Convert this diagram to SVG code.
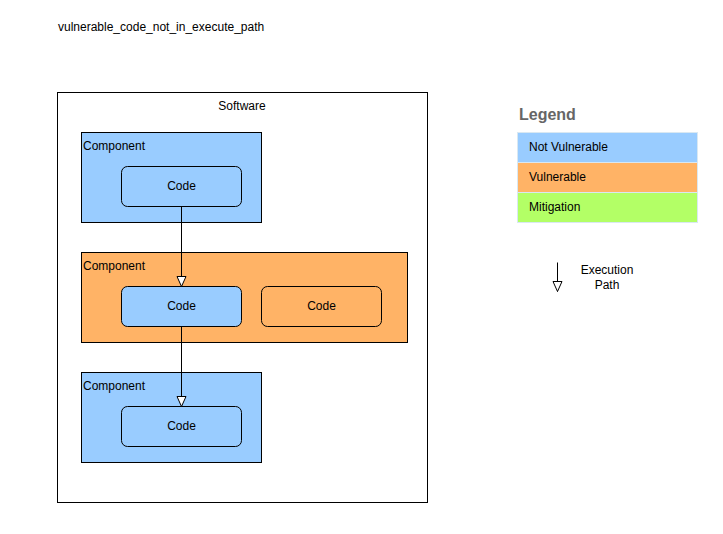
<svg xmlns="http://www.w3.org/2000/svg" width="723" height="534" viewBox="0 0 723 534">
<style>
text{font-family:"Liberation Sans",Arial,sans-serif;font-size:12px;fill:#000}
.box{stroke:#000;stroke-width:1}
.blue{fill:#99CCFF}
.orange{fill:#FFB366}
.green{fill:#B3FF66}
.leg{stroke:#D9E8F2;stroke-width:1}
.mid{text-anchor:middle}
.edge{fill:none;stroke:#000;stroke-width:1}
</style>
<defs>
<marker id="tri" viewBox="-2 -2 14 14" refX="10" refY="5" markerWidth="14" markerHeight="14" markerUnits="userSpaceOnUse" orient="auto" overflow="visible">
<path d="M0,0.5 L10,5 L0,9.5 Z" fill="#fff" stroke="#000" stroke-width="1"/>
</marker>
</defs>
<rect width="723" height="534" fill="#fff"/>
<text x="58" y="31">vulnerable_code_not_in_execute_path</text>
<g id="software">
<rect class="box" x="57.5" y="92.5" width="370" height="410" fill="#fff"/>
<text class="mid" x="242" y="110">Software</text>
</g>
<g id="component1">
<rect class="box blue" x="81.5" y="132.5" width="180" height="90"/>
<text x="83" y="150">Component</text>
</g>
<g id="code1">
<rect class="box blue" x="121.5" y="166.5" width="120" height="40" rx="6"/>
<text class="mid" x="181.5" y="190">Code</text>
</g>
<g id="component2">
<rect class="box orange" x="81.5" y="252.5" width="326" height="90"/>
<text x="83" y="270">Component</text>
</g>
<g id="code2">
<rect class="box blue" x="121.5" y="286.5" width="120" height="40" rx="6"/>
<text class="mid" x="181.5" y="310">Code</text>
</g>
<g id="code3">
<rect class="box orange" x="261.5" y="286.5" width="120" height="40" rx="6"/>
<text class="mid" x="321.5" y="310">Code</text>
</g>
<g id="component3">
<rect class="box blue" x="81.5" y="372.5" width="180" height="90"/>
<text x="83" y="390">Component</text>
</g>
<g id="code4">
<rect class="box blue" x="121.5" y="406.5" width="120" height="40" rx="6"/>
<text class="mid" x="181.5" y="430">Code</text>
</g>
<g id="connectors">
<path class="edge" d="M181.5,206.5 V286.5" marker-end="url(#tri)"/>
<path class="edge" d="M181.5,326.5 V406.5" marker-end="url(#tri)"/>
</g>
<g id="legend">
<text x="519" y="120" style="font-size:16px;font-weight:bold;fill:#666">Legend</text>
<rect class="leg blue" x="517.5" y="132.5" width="180" height="30"/>
<text x="529" y="151">Not Vulnerable</text>
<rect class="leg orange" x="517.5" y="162.5" width="180" height="30"/>
<text x="529" y="181">Vulnerable</text>
<rect class="leg green" x="517.5" y="192.5" width="180" height="30"/>
<text x="529" y="211">Mitigation</text>
</g>
<g id="legend-execution">
<path class="edge" d="M557.5,262.5 V291.5" marker-end="url(#tri)"/>
<text class="mid" x="607" y="274">Execution</text>
<text class="mid" x="607" y="289">Path</text>
</g>
</svg>
